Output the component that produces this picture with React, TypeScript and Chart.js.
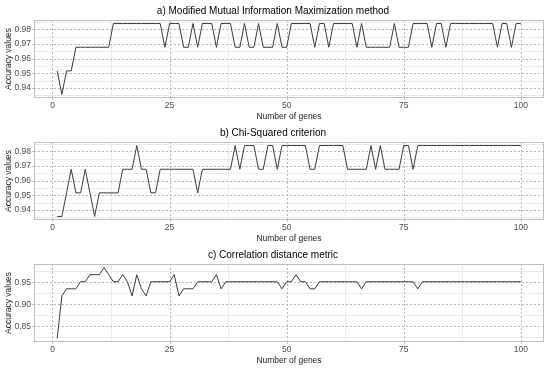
import React, { useEffect, useRef } from "react";
import { Chart, registerables } from "chart.js";

Chart.register(...registerables);

// ---------- data ----------
const genes: number[] = Array.from({ length: 100 }, (_, i) => i + 1);

const xTicks = [0, 25, 50, 75, 100];
const xMinorTicks = [12.5, 37.5, 62.5, 87.5];
const yTicksAB = [0.94, 0.95, 0.96, 0.97, 0.98];
const yMinorAB = [0.935, 0.945, 0.955, 0.965, 0.975, 0.985];
const yTicksC = [0.85, 0.9, 0.95];
const yMinorC = [0.825, 0.875, 0.925, 0.975];

const panelTitles = [
  "a) Modified Mutual Information Maximization method",
  "b) Chi-Squared criterion",
  "c) Correlation distance metric",
];
const xAxisTitle = "Number of genes";
const yAxisTitle = "Accuracy values";

const accMIM = [
  0.9516, 0.9355, 0.9516, 0.9516, 0.9677, 0.9677, 0.9677, 0.9677, 0.9677, 0.9677,
  0.9677, 0.9677, 0.9839, 0.9839, 0.9839, 0.9839, 0.9839, 0.9839, 0.9839, 0.9839,
  0.9839, 0.9839, 0.9839, 0.9677, 0.9839, 0.9839, 0.9839, 0.9677, 0.9677, 0.9839,
  0.9677, 0.9839, 0.9839, 0.9839, 0.9677, 0.9839, 0.9839, 0.9839, 0.9677, 0.9677,
  0.9839, 0.9677, 0.9677, 0.9839, 0.9677, 0.9677, 0.9677, 0.9839, 0.9677, 0.9677,
  0.9839, 0.9839, 0.9839, 0.9839, 0.9839, 0.9677, 0.9839, 0.9839, 0.9677, 0.9839,
  0.9839, 0.9839, 0.9839, 0.9839, 0.9677, 0.9839, 0.9677, 0.9677, 0.9677, 0.9677,
  0.9677, 0.9677, 0.9839, 0.9677, 0.9677, 0.9677, 0.9839, 0.9839, 0.9839, 0.9839,
  0.9677, 0.9839, 0.9839, 0.9677, 0.9839, 0.9839, 0.9839, 0.9839, 0.9839, 0.9839,
  0.9839, 0.9839, 0.9839, 0.9839, 0.9677, 0.9839, 0.9839, 0.9677, 0.9839, 0.9839,
];

const accChi = [
  0.9355, 0.9355, 0.9516, 0.9677, 0.9516, 0.9516, 0.9677, 0.9516, 0.9355, 0.9516,
  0.9516, 0.9516, 0.9516, 0.9516, 0.9677, 0.9677, 0.9677, 0.9839, 0.9677, 0.9677,
  0.9516, 0.9516, 0.9677, 0.9677, 0.9677, 0.9677, 0.9677, 0.9677, 0.9677, 0.9677,
  0.9516, 0.9677, 0.9677, 0.9677, 0.9677, 0.9677, 0.9677, 0.9677, 0.9839, 0.9677,
  0.9839, 0.9839, 0.9839, 0.9677, 0.9677, 0.9839, 0.9839, 0.9677, 0.9839, 0.9839,
  0.9839, 0.9839, 0.9839, 0.9839, 0.9677, 0.9677, 0.9839, 0.9839, 0.9839, 0.9839,
  0.9839, 0.9839, 0.9677, 0.9677, 0.9677, 0.9677, 0.9677, 0.9839, 0.9677, 0.9839,
  0.9677, 0.9677, 0.9677, 0.9677, 0.9839, 0.9839, 0.9677, 0.9839, 0.9839, 0.9839,
  0.9839, 0.9839, 0.9839, 0.9839, 0.9839, 0.9839, 0.9839, 0.9839, 0.9839, 0.9839,
  0.9839, 0.9839, 0.9839, 0.9839, 0.9839, 0.9839, 0.9839, 0.9839, 0.9839, 0.9839,
];

const accCorr = [
  0.8226, 0.9194, 0.9355, 0.9355, 0.9355, 0.9516, 0.9516, 0.9677, 0.9677, 0.9677,
  0.9839, 0.9677, 0.9516, 0.9516, 0.9677, 0.9516, 0.9194, 0.9677, 0.9355, 0.9194,
  0.9516, 0.9516, 0.9516, 0.9516, 0.9516, 0.9677, 0.9194, 0.9355, 0.9355, 0.9355,
  0.9516, 0.9516, 0.9516, 0.9516, 0.9677, 0.9355, 0.9516, 0.9516, 0.9516, 0.9516,
  0.9516, 0.9516, 0.9516, 0.9516, 0.9516, 0.9516, 0.9516, 0.9516, 0.9355, 0.9516,
  0.9516, 0.9677, 0.9516, 0.9516, 0.9355, 0.9355, 0.9516, 0.9516, 0.9516, 0.9516,
  0.9516, 0.9516, 0.9516, 0.9516, 0.9516, 0.9355, 0.9516, 0.9516, 0.9516, 0.9516,
  0.9516, 0.9516, 0.9516, 0.9516, 0.9516, 0.9516, 0.9516, 0.9355, 0.9516, 0.9516,
  0.9516, 0.9516, 0.9516, 0.9516, 0.9516, 0.9516, 0.9516, 0.9516, 0.9516, 0.9516,
  0.9516, 0.9516, 0.9516, 0.9516, 0.9516, 0.9516, 0.9516, 0.9516, 0.9516, 0.9516,
];

// ---------- styling ----------
const FONT = "'Liberation Sans', Arial, Helvetica, sans-serif";
const CANVAS_W = 550;
const CANVAS_H = 123;
const X_AXIS_H = 25;
const Y_AXIS_W = 32;

function expand(vals: number[]) {
  const lo = Math.min(...vals);
  const hi = Math.max(...vals);
  const pad = (hi - lo) * 0.05;
  return [lo - pad, hi + pad];
}

type PanelProps = {
  title: string;
  values: number[];
  yTicks: number[];
  yMinor: number[];
  top: number;
};

function Panel({ title, values, yTicks, yMinor, top }: PanelProps) {
  const ref = useRef<HTMLCanvasElement | null>(null);

  useEffect(() => {
    if (!ref.current) return;
    const [xMin, xMax] = expand(genes);
    const [yMin, yMax] = expand(values);

    const panelPlugin = {
      id: "panelGrid",
      beforeDatasetsDraw(chart: any) {
        const { ctx, chartArea } = chart;
        const { left, right, top: t, bottom } = chartArea;
        const xs = chart.scales.x;
        const ys = chart.scales.y;
        ctx.save();
        ctx.lineWidth = 1;
        ctx.strokeStyle = "#ebebeb";
        ctx.setLineDash([]);
        for (const v of xMinorTicks) {
          const p = Math.round(xs.getPixelForValue(v)) + 0.5;
          ctx.beginPath();
          ctx.moveTo(p, t);
          ctx.lineTo(p, bottom);
          ctx.stroke();
        }
        for (const v of yMinor) {
          const p = Math.round(ys.getPixelForValue(v)) + 0.5;
          if (p < t || p > bottom) continue;
          ctx.beginPath();
          ctx.moveTo(left, p);
          ctx.lineTo(right, p);
          ctx.stroke();
        }
        ctx.strokeStyle = "#b8b8b8";
        ctx.setLineDash([2, 2]);
        for (const v of xTicks) {
          const p = Math.round(xs.getPixelForValue(v)) + 0.5;
          ctx.beginPath();
          ctx.moveTo(p, t);
          ctx.lineTo(p, bottom);
          ctx.stroke();
        }
        for (const v of yTicks) {
          const p = Math.round(ys.getPixelForValue(v)) + 0.5;
          ctx.beginPath();
          ctx.moveTo(left, p);
          ctx.lineTo(right, p);
          ctx.stroke();
        }
        ctx.restore();
      },
      afterDatasetsDraw(chart: any) {
        const { ctx, chartArea } = chart;
        const { left, right, top: t, bottom } = chartArea;
        const xs = chart.scales.x;
        const ys = chart.scales.y;
        ctx.save();
        ctx.lineWidth = 1;
        ctx.setLineDash([]);
        ctx.strokeStyle = "#bfbfbf";
        ctx.strokeRect(Math.round(left) + 0.5, Math.round(t) + 0.5, Math.round(right - left) - 1, Math.round(bottom - t) - 1);
        for (const v of xTicks) {
          const p = Math.round(xs.getPixelForValue(v)) + 0.5;
          ctx.beginPath();
          ctx.moveTo(p, bottom);
          ctx.lineTo(p, bottom + 2);
          ctx.stroke();
        }
        for (const v of yTicks) {
          const p = Math.round(ys.getPixelForValue(v)) + 0.5;
          ctx.beginPath();
          ctx.moveTo(left - 2, p);
          ctx.lineTo(left, p);
          ctx.stroke();
        }
        ctx.restore();
      },
    };

    const chart = new Chart(ref.current, {
      type: "line",
      data: {
        datasets: [
          {
            data: genes.map((g, i) => ({ x: g, y: values[i] })),
            borderColor: "#3a3a3a",
            borderWidth: 1,
            pointRadius: 0,
            tension: 0,
            fill: false,
          },
        ],
      },
      options: {
        animation: false,
        responsive: false,
        maintainAspectRatio: false,
        layout: { padding: { left: 2, right: 6, top: 0, bottom: 0 } },
        plugins: {
          legend: { display: false },
          tooltip: { enabled: false },
          title: {
            display: true,
            text: title,
            color: "#000000",
            font: { family: FONT, size: 10, weight: "normal" },
            padding: { top: 5, bottom: 3 },
          },
        },
        scales: {
          x: {
            type: "linear",
            min: xMin,
            max: xMax,
            grid: { display: false, drawTicks: false },
            border: { display: false },
            afterBuildTicks: (s: any) => {
              s.ticks = xTicks.map((v) => ({ value: v }));
            },
            afterFit: (s: any) => {
              s.height = X_AXIS_H;
            },
            ticks: {
              autoSkip: false,
              maxRotation: 0,
              color: "#4d4d4d",
              font: { family: FONT, size: 8.5 },
              padding: 3,
              callback: (v: any) => String(v),
            },
            title: {
              display: true,
              text: xAxisTitle,
              color: "#1a1a1a",
              font: { family: FONT, size: 8.5 },
              padding: { top: 0, bottom: 1.2 },
            },
          },
          y: {
            type: "linear",
            min: yMin,
            max: yMax,
            grid: { display: false, drawTicks: false },
            border: { display: false },
            afterBuildTicks: (s: any) => {
              s.ticks = yTicks.map((v) => ({ value: v }));
            },
            afterFit: (s: any) => {
              s.width = Y_AXIS_W;
            },
            ticks: {
              autoSkip: false,
              color: "#4d4d4d",
              font: { family: FONT, size: 8.5 },
              padding: 3,
              callback: (v: any) => Number(v).toFixed(2),
            },
            title: {
              display: true,
              text: yAxisTitle,
              color: "#1a1a1a",
              font: { family: FONT, size: 8.5 },
              padding: { top: 2, bottom: 0 },
            },
          },
        },
      } as any,
      plugins: [panelPlugin as any],
    });
    return () => chart.destroy();
  }, [title, values, yTicks, yMinor]);

  return (
    <canvas
      ref={ref}
      width={CANVAS_W}
      height={CANVAS_H}
      style={{ position: "absolute", left: 0, top, width: CANVAS_W, height: CANVAS_H }}
    />
  );
}

export default function App() {
  return (
    <div
      style={{
        position: "fixed",
        left: 0,
        top: 0,
        width: 550,
        height: 370,
        background: "#ffffff",
        overflow: "hidden",
      }}
    >
      <Panel title={panelTitles[0]} values={accMIM} yTicks={yTicksAB} yMinor={yMinorAB} top={0} />
      <Panel title={panelTitles[1]} values={accChi} yTicks={yTicksAB} yMinor={yMinorAB} top={122} />
      <Panel title={panelTitles[2]} values={accCorr} yTicks={yTicksC} yMinor={yMinorC} top={244} />
    </div>
  );
}
